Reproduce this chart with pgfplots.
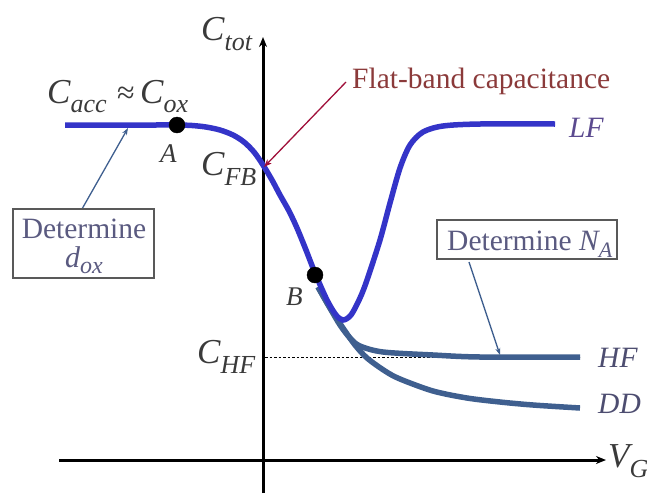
\documentclass[border=0pt]{standalone}
\usepackage{pgfplots}
\pgfplotsset{compat=1.18}
\usepackage{fontspec}
\setmainfont{Liberation Serif}
\usetikzlibrary{arrows.meta}
\definecolor{mainblue}{HTML}{3434C8}
\definecolor{steel}{HTML}{3F5F8F}
\definecolor{txt}{HTML}{3A3A3A}
\definecolor{lfc}{HTML}{5B4A8F}
\definecolor{hfc}{HTML}{4D4D70}
\definecolor{fbc}{HTML}{8B3A3A}
\definecolor{fba}{HTML}{A0103A}
\definecolor{boxt}{HTML}{5A5A80}
\newcommand{\bigC}[1]{\fontsize{35}{38}\selectfont\itshape #1}
\newcommand{\sub}[2]{\raisebox{-#2}{\fontsize{26}{28}\selectfont\itshape #1}}
\begin{document}
\begin{tikzpicture}
\begin{axis}[scale only axis, width=647pt, height=493pt,
  xmin=0, xmax=647, ymin=0, ymax=493, y dir=reverse,
  hide axis, clip=false, anchor=south west, at={(0,0)}]
% axes
\addplot[black, line width=3pt, -{Stealth[length=10pt,width=8pt]}] coordinates {(59,460) (606,460)};
\addplot[black, line width=3pt, -{Stealth[length=10pt,width=8pt]}] coordinates {(263,493) (263,37)};
% C_HF dashed
\addplot[black, line width=0.9pt, dash pattern=on 2.5pt off 2pt] coordinates {(265,357) (580,357)};
% HF and DD
\addplot[steel, line width=5.5pt, smooth, tension=0.5] coordinates {(318,287) (330,308) (340,325) (350,338) (360,346) (383,352) (433,355) (480,357) (580,357)};
\addplot[steel, line width=5.5pt, smooth, tension=0.5] coordinates {(318,287) (330,308) (343,328) (355,345) (367,358) (385,371) (400,379) (433,391) (467,398) (500,402) (533,405) (580,408)};
% main curve (LF)
\addplot[mainblue, line width=5.5pt, smooth, tension=0.5] coordinates {(65,125) (150,125) (177,125) (192,125.5) (206,127) (220,130) (233,135) (244,142) (254,152) (263,165) (272,180) (280,195) (289,211) (297,228) (306,250) (315,273) (327,300) (336,315) (343,320) (351,315) (360,298) (367,280) (380,240) (390,203) (400,168) (410,145) (423,132) (443,126) (480,124) (555,124)};
% dots
\addplot[only marks, mark=*, mark size=8pt, black] coordinates {(177,125) (315,275)};
% arrows
\draw[fba, line width=1.3pt, -{Stealth[length=8pt,width=6pt]}] (axis cs:346,82) -- (axis cs:264,167);
\draw[steel, line width=1.3pt, -{Stealth[length=7pt,width=5pt]}] (axis cs:82,209) -- (axis cs:128,128);
\draw[steel, line width=1.3pt, -{Stealth[length=7pt,width=5pt]}] (axis cs:469,262) -- (axis cs:500,355);
% boxes
\draw[black!65, line width=1.2pt] (axis cs:13,209) rectangle (axis cs:154,278);
\draw[black!65, line width=1.2pt] (axis cs:437,220) rectangle (axis cs:617,259);
\node[anchor=base, boxt, inner sep=0pt] at (axis cs:84,238) {\fontsize{29.5}{32}\selectfont Determine};
\node[anchor=base, boxt, inner sep=0pt] at (axis cs:84,267) {\fontsize{30}{32}\selectfont\itshape d\raisebox{-6pt}{\fontsize{24}{26}\selectfont\itshape ox}};
\node[anchor=base west, boxt, inner sep=0pt] at (axis cs:447,250) {\fontsize{29.5}{32}\selectfont Determine \itshape N\raisebox{-7pt}{\fontsize{22}{24}\selectfont\itshape A}};
% labels
\node[anchor=base west, txt, inner sep=0pt] at (axis cs:47,103) {\bigC{C}\sub{acc}{9pt}\hspace{10pt}\fontsize{32}{34}\selectfont≈\hspace{6pt}\bigC{C}\sub{ox}{9pt}};
\node[anchor=base west, txt, inner sep=0pt] at (axis cs:201,40) {\bigC{C}\sub{tot}{10pt}};
\node[anchor=base west, txt, inner sep=0pt] at (axis cs:201,175) {\bigC{C}\sub{FB}{10pt}};
\node[anchor=base west, txt, inner sep=0pt] at (axis cs:197,363) {\bigC{C}\sub{HF}{10pt}};
\node[anchor=base west, txt, inner sep=0pt] at (axis cs:608,467) {\bigC{V}\sub{G}{10pt}};
\node[anchor=base west, txt, inner sep=0pt] at (axis cs:160,162) {\fontsize{27}{29}\selectfont\itshape A};
\node[anchor=base west, txt, inner sep=0pt] at (axis cs:286,305) {\fontsize{27}{29}\selectfont\itshape B};
\node[anchor=base west, lfc, inner sep=0pt] at (axis cs:569,137) {\fontsize{29.5}{32}\selectfont\itshape LF};
\node[anchor=base west, hfc, inner sep=0pt] at (axis cs:598,367) {\fontsize{29.5}{32}\selectfont\itshape HF};
\node[anchor=base west, hfc, inner sep=0pt] at (axis cs:598,413) {\fontsize{29.5}{32}\selectfont\itshape DD};
\node[anchor=base west, fbc, inner sep=0pt] at (axis cs:352,88) {\fontsize{29.5}{32}\selectfont Flat-band capacitance};
\end{axis}
\pgfresetboundingbox
\path[use as bounding box] (0,0) rectangle (647pt,493pt);
\end{tikzpicture}
\end{document}
